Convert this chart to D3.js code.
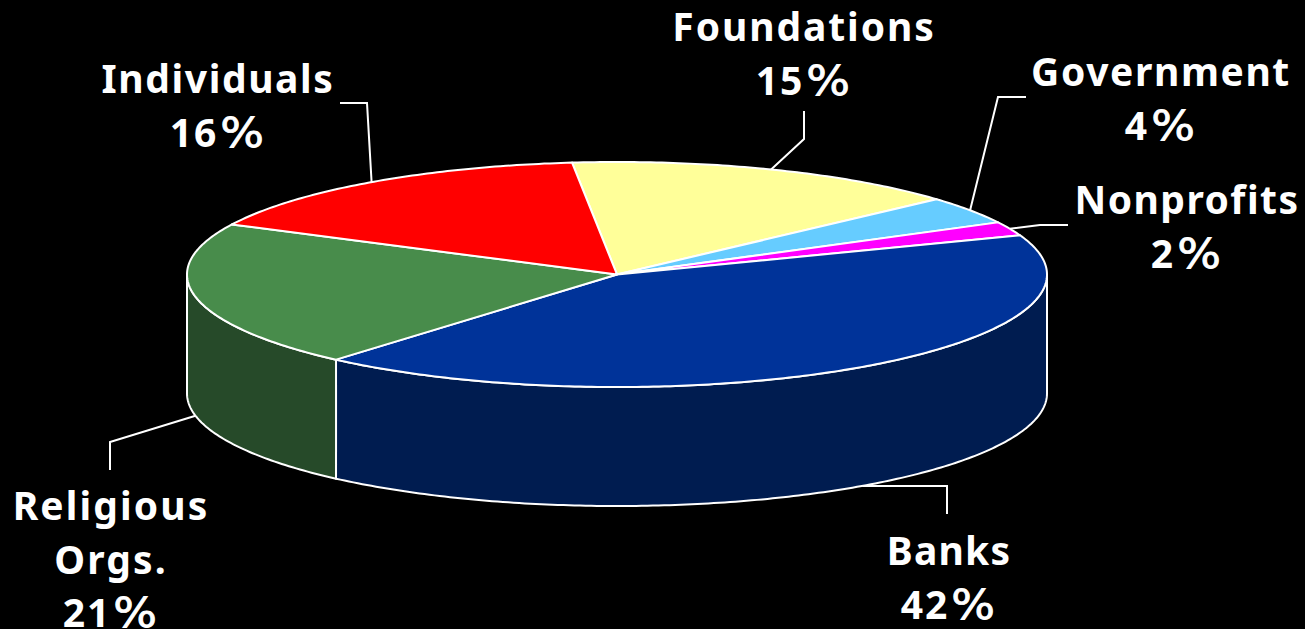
<!DOCTYPE html>
<html>
<head>
<meta charset="utf-8">
<script src="https://cdn.jsdelivr.net/npm/d3@7/dist/d3.min.js"></script>
<style>
  html, body { margin: 0; padding: 0; background: #000; overflow: hidden; }
  svg { display: block; }
  text { font-family: "Noto Sans", sans-serif; font-weight: 700; font-size: 39px; fill: #fff; text-anchor: middle; }
  .pct { font-family: "DejaVu Sans", sans-serif; font-weight: 400; font-size: 40px; stroke: #fff; stroke-width: 0.8px; }
</style>
</head>
<body>
<svg id="chart" width="1305" height="629"></svg>
<script>
// Funding sources, clockwise from the seam between Individuals and Foundations.
const categories = ["Foundations", "Government", "Nonprofits", "Banks", "Religious Orgs.", "Individuals"];
const shares = [15, 4, 2, 42, 21, 16];
const topColors = ["#ffff99", "#66ccff", "#ff00ff", "#003399", "#488c4b", "#ff0000"];
const sideColors = ["#808050", "#336680", "#800080", "#001c50", "#264a29", "#800000"];

const labelLines = [
  ["Foundations"],
  ["Government"],
  ["Nonprofits"],
  ["Banks"],
  ["Religious", "Orgs."],
  ["Individuals"]
];

const width = 1305, height = 629;
const wallDepth = 119;
const rad = Math.PI / 180;

const svg = d3.select("#chart");
svg.append("rect").attr("width", width).attr("height", height).attr("fill", "#000");

// Unit-circle coordinates map onto the tilted disc.
const xScale = d3.scaleLinear().domain([-1, 1]).range([187, 1047]);
const yScale = d3.scaleLinear().domain([-1, 1]).range([387, 162]);
const rimX = a => xScale(Math.sin(a));
const rimY = a => yScale(Math.cos(a));

const slices = d3.pie().sort(null)
  .startAngle(-6 * rad).endAngle(354 * rad)(shares);

const sweep = (a0, a1) => {
  const n = Math.max(2, Math.ceil((a1 - a0) / (0.75 * rad)));
  return d3.range(n + 1).map(i => a0 + (a1 - a0) * i / n);
};

// Outer wall: only the part of the rim facing the viewer.
const wall = d3.area().x(rimX).y0(rimY).y1(a => rimY(a) + wallDepth);
const walls = svg.append("g");
slices.forEach((s, i) => {
  const a0 = Math.max(s.startAngle, 90 * rad);
  const a1 = Math.min(s.endAngle, 270 * rad);
  if (a1 <= a0) return;
  walls.append("path")
    .attr("d", wall(sweep(a0, a1)) + "Z")
    .attr("fill", sideColors[i])
    .attr("stroke", "#fff")
    .attr("stroke-width", 2)
    .attr("stroke-linejoin", "round");
});

// Top face of each slice.
const wedge = d3.line().x(d => d[0]).y(d => d[1]);
const hub = [xScale(0), yScale(0)];
const tops = svg.append("g");
slices.forEach((s, i) => {
  const pts = [hub, ...sweep(s.startAngle, s.endAngle).map(a => [rimX(a), rimY(a)])];
  tops.append("path")
    .attr("d", wedge(pts) + "Z")
    .attr("fill", topColors[i])
    .attr("stroke", "#fff")
    .attr("stroke-width", 2)
    .attr("stroke-linejoin", "round");
});

// Leader elbows and label placement, one entry per slice.
const leaderBends = [
  [[804, 139], [804, 111]],
  [[998, 97], [1026, 97]],
  [[1040, 225], [1068, 225]],
  [[947, 486], [947, 514]],
  [[110, 442], [110, 470]],
  [[367, 103], [340, 103]]
];
const labelAnchors = [
  [804, 41, 1.9], [1161, 86, 1.6], [1187, 214, 1.45],
  [949, 565, 1.2], [111, 520, 2.1], [218, 93, 1.6]
];
const lineGap = 53.5;

const leaders = svg.append("g");
slices.forEach((s, i) => {
  const mid = (s.startAngle + s.endAngle) / 2;
  const onFront = Math.cos(mid) < 0;
  const start = [rimX(mid), rimY(mid) + (onFront ? wallDepth : 0)];
  leaders.append("path")
    .attr("d", wedge([start, ...leaderBends[i]]))
    .attr("fill", "none")
    .attr("stroke", "#fff")
    .attr("stroke-width", 2);
});

// Category name lines, then the share on the line below them.
const labels = svg.append("g");
labelLines.forEach((lines, i) => {
  const [x, y, spacing] = labelAnchors[i];
  lines.forEach((line, j) => {
    labels.append("text")
      .attr("x", x)
      .attr("y", y + j * lineGap)
      .attr("letter-spacing", spacing)
      .text(line);
  });
  const pctText = labels.append("text")
    .attr("x", x)
    .attr("y", y + lines.length * lineGap)
    .attr("letter-spacing", 2);
  pctText.append("tspan").text(shares[i]);
  pctText.append("tspan")
    .attr("class", "pct")
    .attr("dx", 2)
    .attr("textLength", 46)
    .attr("lengthAdjust", "spacingAndGlyphs")
    .text("%");
});
</script>
</body>
</html>
